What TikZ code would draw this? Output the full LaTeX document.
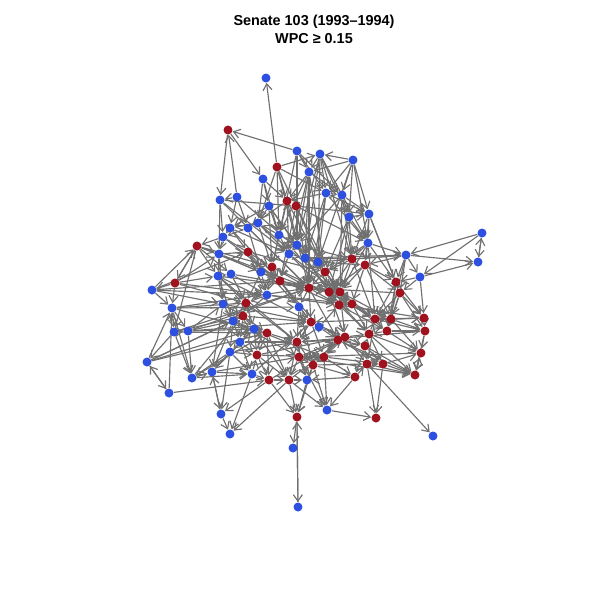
\documentclass[tikz,border=0pt]{standalone}
\usepackage{fontspec}
\setmainfont{Liberation Sans}
\usetikzlibrary{arrows.meta,backgrounds}
\definecolor{demblue}{RGB}{46,80,224}
\definecolor{repred}{RGB}{160,18,30}
\definecolor{edgegray}{RGB}{112,112,112}
\tikzset{
  senator/.style={circle, inner sep=0pt, minimum size=0.18cm},
  dem/.style={senator, fill=demblue},
  rep/.style={senator, fill=repred},
  link/.style={draw=edgegray, line width=0.65pt, -{Straight Barb[length=1.3mm,width=1.8mm]}}
}
\begin{document}
\begin{tikzpicture}[x=0.02cm, y=-0.02cm]
\useasboundingbox (0,0) rectangle (600,600);
\node[font=\bfseries\fontsize{8.2}{10}\selectfont] (title) at (314,22) {Senate 103 (1993--1994)};
\node[font=\bfseries\fontsize{8.2}{10}\selectfont] (subtitle) at (314,39) {WPC ≥ 0.15};

% democrats
\foreach \i/\x/\y in {1/266/78, 2/297/151, 3/320/154, 4/353/160, 5/309/172, 6/263/179,
  7/220/200, 8/237/197, 9/326/193, 10/342/195, 11/269/206, 12/369/214, 13/349/217,
  14/230/228, 15/248/228, 16/258/223, 17/279/235, 18/223/237, 19/482/233, 20/368/243,
  21/406/255, 22/478/262, 23/420/277, 24/219/254, 25/297/245, 26/289/254, 27/305/258,
  28/318/262, 29/261/272, 30/218/276, 31/231/274, 32/152/290, 33/267/295, 34/172/308,
  35/223/304, 36/299/307, 37/233/321, 38/319/327, 39/174/332, 40/188/331, 41/254/329,
  42/240/342, 43/230/352, 44/147/362, 45/192/378, 46/212/372, 47/252/374, 48/307/380,
  49/169/393, 50/221/414, 51/230/434, 52/327/410, 53/433/436, 54/293/448, 55/298/507}
  \node[dem] (b\i) at (\x,\y) {};

% republicans
\foreach \i/\x/\y in {1/228/130, 2/277/167, 3/287/201, 4/296/206, 5/197/246, 6/248/252,
  7/272/267, 8/352/259, 9/365/265, 10/325/272, 11/280/281, 12/175/283, 13/309/288,
  14/329/292, 15/340/292, 16/396/282, 17/400/293, 18/246/303, 19/339/305, 20/352/304,
  21/243/316, 22/311/322, 23/375/319, 24/391/319, 25/424/318, 26/425/331, 27/387/331,
  28/267/333, 29/297/342, 30/369/334, 31/345/337, 32/338/340, 33/365/346, 34/421/353,
  35/257/355, 36/299/357, 37/324/357, 38/313/365, 39/367/364, 40/383/364, 41/415/375,
  42/355/377, 43/269/380, 44/289/380, 45/297/417, 46/376/418}
  \node[rep] (r\i) at (\x,\y) {};

\begin{pgfonlayer}{background}
% outer ties
\foreach \s/\t in {r2/b1, b2/r1, r1/b6, r1/b7, b8/r1, r2/b3, r2/b9, b4/b3, b4/b5, b2/b10,
  b5/b10, b4/b13, b3/b9, b8/b7, b7/b18, r4/b12, b13/b12, b19/b22, b22/b19, b19/b21,
  b19/b23, b23/b22, b21/b22, b20/b21, b21/b23, b23/r25, r5/r12, r12/r5, b32/b34, r12/b32,
  b44/b34, b44/b49, b49/b44, b49/b34, b49/r43, b44/b37, b43/b45, b45/b47, b46/b50, b50/b46,
  b50/b51, b47/b51, r44/b51, r43/b50, b43/b50, r45/b54, b55/r45, r45/b55, b52/r46, r42/b52,
  r44/b52, r39/r46, r39/b53, r42/b48, r33/r41, r30/r41, r36/r41}
  \draw[link] (\s) -- (\t);
% top cluster
\foreach \s/\t in {r2/b16, r2/b17, b2/b17, b6/b11, b7/r4, b8/b15, b6/r3, b5/r3, b3/b13,
  b9/b12, b10/b13, b3/b20, r4/b20, b11/b14, r3/b15, b9/r3, b2/b25, b3/b28, b4/b12, b4/b20,
  b3/b25, b5/b27, r2/b25, r2/r3, r2/r4, b11/r7, r3/r7, r4/r11, r3/r10, b11/b25, b6/b17,
  b6/b16, b5/b17, b2/b5, b3/b5, b4/b9, b4/b10, b2/b9, b10/b12, b9/b10}
  \draw[link] (\s) -- (\t);
% left side
\foreach \s/\t in {b14/b18, b15/b18, b16/b14, b17/b16, b18/r5, r5/b24, b24/b30, b30/b31,
  b24/r6, b14/r6, b15/b29, b16/r7, b17/r7, b18/b24, b7/b24, b8/b14, b11/b16, b11/b17,
  r6/b29, b29/r11, b31/r18, b30/r18, b30/b35, b24/b35, r5/b30, r5/b31, r12/b30, r12/b24,
  r12/b34, b32/r5, r5/b39, b34/b39, b34/b40, b39/b40, b40/b37, b40/b35, b34/r18, b32/b35,
  b39/b44, b34/r13, b40/r22, b39/r28, b44/r28, r12/b33, b32/r6, b34/b36, b39/r21, b40/b41,
  b40/b45, b39/b45, b34/b45, b37/b46, b35/b46, b32/r11, b32/b33, b44/r21, b39/r13,
  b40/r13, b34/r28, b30/r22, b24/r13, r5/r7, r5/b29, b18/r11, b14/b26, b7/b26, r12/r18,
  b44/b41, b30/r29}
  \draw[link] (\s) -- (\t);
% centre
\foreach \s/\t in {b25/b26, b26/b27, b27/b28, b25/r10, b26/r11, b27/r13, b28/r14, b25/r8,
  b27/r8, b28/r9, b20/r8, b20/r9, b12/b20, b13/b20, b13/r8, b10/b25, b9/b27, b9/b28,
  b5/b25, b5/b26, b3/b27, b4/b28, b17/b25, b17/b26, b16/b26, r7/r11, r7/b33, r11/r13,
  r11/b36, b33/r18, b33/r21, r13/r14, r14/r15, r15/r19, r19/r20, r13/b36, b36/r22,
  r22/b38, b38/r19, r14/r19, r15/r20, r10/r13, r10/r14, r10/r15, r8/r15, r9/r20, r8/r10,
  r9/r16, b7/r13, b8/r10, b11/r14, b14/r11, b15/r13, b16/r15, b18/r7, b24/r11, b30/r13,
  b31/r14, b35/r22, b29/r19, b33/r20, r6/r10, r6/b36, r18/r29, r21/r22, b27/r19, b26/r20,
  b25/r14, b28/r15, b28/r10, r13/r19, r13/r32, r14/r31, r15/r31, r10/r20, r8/r14, r9/r14,
  r9/r15, b20/r15, b20/r10, b12/r9, b13/r15, b10/r8, b9/b20, b5/r10, b3/r8, r4/r10,
  r3/r13, r4/b27, r3/b26, r13/r22, r11/r22, r11/b38, r7/r13, b29/b33, b29/r18, r6/b33,
  b31/b33, b30/b37, b35/b37, b35/r21, r18/b37, r18/b41, r21/b41, b12/r17, b13/r14,
  b10/r15, b9/r13, r4/r15, b5/r13, b27/b21, b28/b21, r8/b21, b26/r19, r7/r20, b33/r19,
  r11/r15}
  \draw[link] (\s) -- (\t);
% right side
\foreach \s/\t in {r16/r17, r17/r24, r16/r23, r20/r23, r23/r24, r24/r25, r25/r26, r26/r34,
  r24/r27, r27/r30, r30/r23, r17/r25, r17/r26, r16/r25, b21/r16, b21/r17, b23/r16,
  b23/r17, b21/r9, b20/r16, b12/r8, b12/r16, b13/r10, r9/r17, r16/r24, r16/r27, r17/r23,
  r17/r27, r23/r25, r23/r26, r24/r34, r27/r26, r30/r34, r20/r27, r19/r27, r15/r24,
  r14/r30, b21/r27, b20/r23, r9/r24, r8/r23, r19/r30, r20/r30, r20/r24, r15/r23, r14/r23,
  r24/r26, r27/r34, r40/r34, r41/r34, r26/r41, r34/r41, r40/r41, r39/r41, r25/r22,
  r26/r29, r34/r36, r17/r13, r25/r19, r41/r32}
  \draw[link] (\s) -- (\t);
% lower part
\foreach \s/\t in {r31/r32, r32/r29, r31/r30, r33/r30, r33/r39, r39/r40, r22/r29,
  b38/r29, r29/r36, r36/r37, r37/r38, r38/b48, r36/r44, r44/b48, r43/r44, r35/r43,
  r28/r35, b41/r28, b42/b43, b42/r35, b43/r35, b41/b42, r21/b37, b37/b42, b37/b41,
  r21/r28, r18/r21, r28/r29, b47/r43, b47/r35, b46/b47, b45/b46, b43/b46, r38/r42,
  r37/r42, r42/r39, r32/r37, r31/r37, r32/r38, r29/r38, r36/r38, r44/r45, r43/r45,
  b48/r45, r38/r45, r36/b52, r37/b52, r38/b52, r40/r46, r33/r42, b37/r36, b41/r37,
  b42/r29, r35/r31, r43/r32, r44/r31, b47/r22, b45/r21, b46/b41, b43/r29, r31/r33,
  r32/r33, r33/r40, r30/r40, r23/r39, r32/r40, r31/r39, r38/r39, r37/r40, r22/r31,
  b38/r31, b38/r32, r22/r37, r36/r32, b36/r29, b36/r38, r21/b42, b37/b43, b41/r35,
  r28/r43, r28/r44, b41/r44, r35/r44, r29/r44, r29/b48, r36/b48, b42/b47, b43/b47,
  b46/r36, b45/r28, r35/r37}
  \draw[link] (\s) -- (\t);
\end{pgfonlayer}
\end{tikzpicture}
\end{document}
